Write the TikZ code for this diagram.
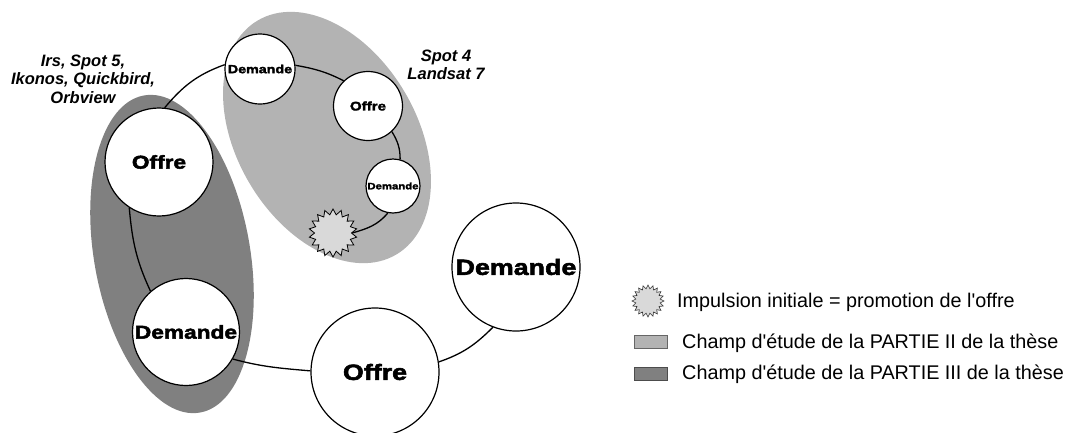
\documentclass[tikz,border=0pt]{standalone}
\usepackage{fontspec}
\setmainfont{Liberation Sans}[Ligatures=TeXOff]
\newfontfamily\heavyfont[FakeStretch=1.22,BoldFeatures={FakeBold=2.5}]{Liberation Sans}
\usetikzlibrary{shapes.geometric}
\definecolor{lightzone}{HTML}{B3B3B3}
\definecolor{darkzone}{HTML}{808080}
\definecolor{burstfill}{HTML}{D9D9D9}
\begin{document}
\begin{tikzpicture}[x=1pt,y=1pt,
  bub/.style={circle, draw=black, line width=1.2pt, fill=white, inner sep=0pt},
  conn/.style={draw=black, line width=1.3pt},
  burststyle/.style={star, star points=18, star point ratio=1.3, draw=black, line width=0.8pt, fill=burstfill, inner sep=0pt},
  sat/.style={align=center, font=\fontsize{16.5}{18.5}\selectfont\bfseries\itshape},
  legtext/.style={anchor=base west, inner sep=0pt, font=\fontsize{19.8}{22}\selectfont},
  legbox/.style={minimum width=33pt, minimum height=13pt, inner sep=0pt, line width=0.8pt}
]
\useasboundingbox (0,0) rectangle (1070,-432);
\clip (0,0) rectangle (1070,-432);
% study fields
\fill[darkzone, rotate around={100:(172,-254)}] (172,-254) ellipse [x radius=161, y radius=78];
\fill[lightzone, rotate around={120.7:(327,-137.5)}] (327,-137.5) ellipse [x radius=136, y radius=90];
% bubbles
\node[burststyle, minimum size=48pt] (burst) at (333,-233) {};
\node[bub, minimum size=54pt] (d2) at (393,-186) {\heavyfont\bfseries\fontsize{9.3}{10}\selectfont Demande};
\node[bub, minimum size=69pt] (o1) at (368,-106) {\heavyfont\bfseries\fontsize{12.4}{13}\selectfont Offre};
\node[bub, minimum size=70pt] (d1) at (260,-69) {\heavyfont\bfseries\fontsize{11.7}{12}\selectfont Demande};
\node[bub, minimum size=108pt] (bigo) at (159,-162) {\heavyfont\bfseries\fontsize{18.6}{20}\selectfont Offre};
\node[bub, minimum size=107pt] (d3) at (186,-332) {\heavyfont\bfseries\fontsize{18.6}{20}\selectfont Demande};
\node[bub, minimum size=128pt] (o2) at (375,-372) {\heavyfont\bfseries\fontsize{22}{24}\selectfont Offre};
\node[bub, minimum size=128pt] (d4) at (516,-267) {\heavyfont\bfseries\fontsize{22}{24}\selectfont Demande};
% spiral connectors
\draw[conn] (burst.0) to[out=16,in=230] (d2.259);
\draw[conn] (d2.75) to[out=90,in=301] (o1.313);
\draw[conn] (o1.134) to[out=153,in=350] (d1.6);
\draw[conn] (d1.173) to[out=200,in=50] (bigo.84);
\draw[conn] (bigo.237) to[out=275,in=115] (d3.131);
\draw[conn] (d3.330) to[out=-15,in=175] (o2.179);
\draw[conn] (o2.9) to[out=19,in=225] (d4.249);
% satellite labels
\node[sat] (satA) at (83,-79) {Irs, Spot 5,\\Ikonos, Quickbird,\\Orbview};
\node[sat] (satB) at (446,-65) {Spot 4\\Landsat 7};
% legend
\node[star, star points=20, star point ratio=1.3, minimum size=32pt, inner sep=0pt, draw=black!80, line width=0.6pt, fill=burstfill] (lburst) at (648,-301) {};
\node[legtext] (ltext1) at (677,-307.5) {Impulsion initiale = promotion de l'offre};
\node[legbox, draw=black!60, fill=lightzone] (lbox1) at (650.5,-341.5) {};
\node[legtext] (ltext2) at (682,-348) {Champ d'étude de la PARTIE II de la thèse};
\node[legbox, draw=black!70, fill=darkzone] (lbox2) at (650.5,-373.5) {};
\node[legtext] (ltext3) at (682,-379.5) {Champ d'étude de la PARTIE III de la thèse};
\end{tikzpicture}
\end{document}
